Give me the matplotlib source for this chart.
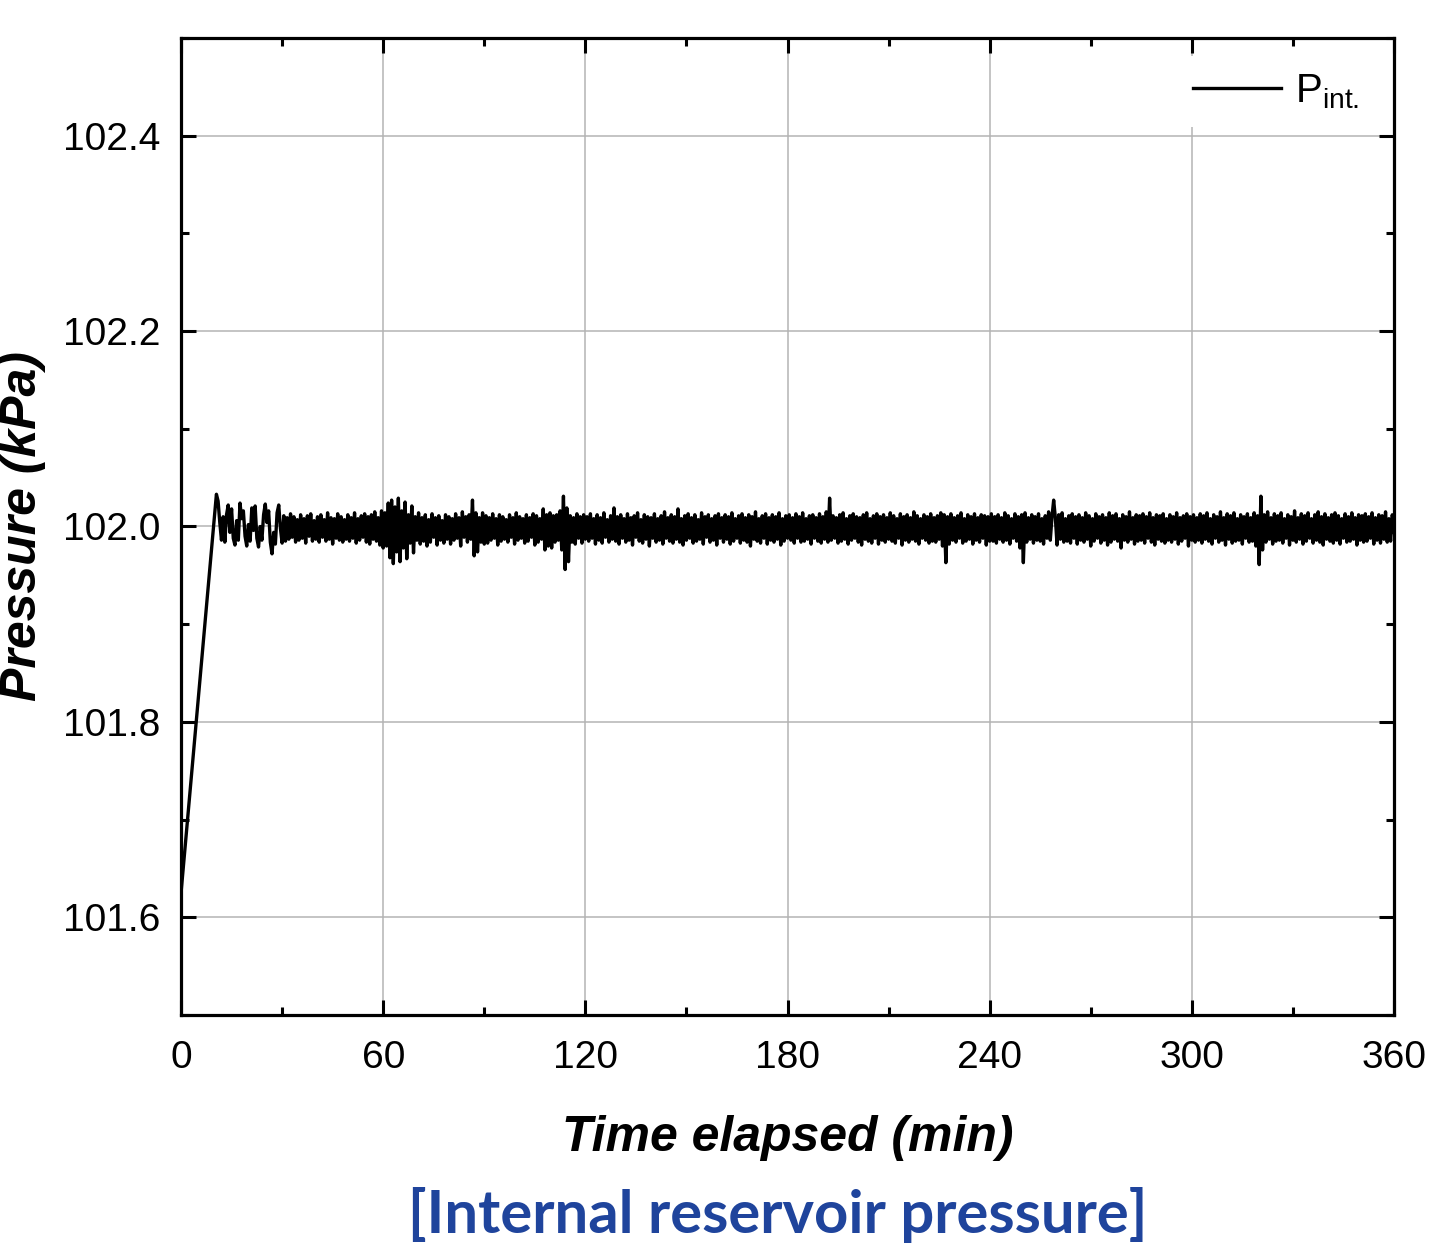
import numpy as np
import matplotlib.pyplot as plt
from matplotlib.ticker import MultipleLocator

# start of the record: P at t = 0 (kPa), then ramp to the first oscillation peak
t_start = 0.0
p_start = 101.625
p_base = 102.0

# deviation from 102.0 kPa in units of 0.001 kPa, read every 0.5 min from t = 10.5 min
dev_h1 = [33, 26, 4, -14, 10, -16, 12, 22, -6, 18, -12, -19, 6, -14, 24, 8, 16, -10, -20, 2,
          -15, 19, -4, 21, -12, -21, 0, -14, 12, 23, 4, 16, -16, -28, -6, -18, 14, 22, -2, -17,
          11, -15, 9, -13, 13, -11, 10, -16, 7, -14, 12, -12, 8, -17, 11, -10, 13, -15, 6, -13,
          10, -16, 12, -11, 7, -15, 14, -13, 9, -18, 8, -12, 13, -14, 10, -16, 7, -13, 12, -15,
          9, -12, 14, -17, 8, -14, 11, -11, 13, -16, 10, -18, 12, -13, 15, -15, 9, -19, 16, -22]
dev_h2 = [14, -20, 24, -32, 27, -38, 20, -26, 29, -36, 16, -22, 25, -33, 12, -17, 21, -27, 10, -14,
          14, -18, 9, -15, 12, -20, 7, -16, 13, -11, 9, -19, 11, -14, 6, -17, 12, -13, 10, -18,
          8, -14, 13, -12, 9, -20, 15, -11, 10, -16, 12, -13, 27, -30, 14, -26, 9, -16, 14, -18,
          11, -17, 9, -14, 13, -12, 8, -19, 12, -15, 10, -13, 7, -16, 12, -11, 9, -18, 14, -14,
          10, -12, 8, -17, 12, -15, 9, -11, 13, -19, 11, -16, 8, -13, 18, -24, 12, -20, 14, -22,
          11, -16, 12, -14, 16, -24, 31, -44, 19, -36, 11, -16, 9, -18, 13, -12, 10, -17, 12, -13]
dev_h3 = [10, -15, 13, -12, 8, -18, 12, -14, 9, -17, 14, -11, 7, -16, 11, -13, 19, -15, 10, -18,
          12, -12, 8, -16, 13, -14, 9, -19, 11, -11, 14, -15, 7, -17, 12, -13, 10, -20, 9, -12,
          13, -16, 8, -14, 11, -18, 15, -12, 9, -15, 12, -17, 10, -13, 18, -16, 8, -19, 11, -14,
          13, -12, 9, -17, 12, -15, 7, -13, 14, -18, 10, -11, 12, -16, 8, -14, 11, -19, 13, -12,
          9, -16, 12, -13, 10, -18, 14, -15, 8, -12, 11, -17, 13, -14, 9, -16, 12, -20, 10, -13,
          15, -15, 8, -17, 11, -12, 13, -18, 9, -14, 12, -16, 10, -13, 14, -19, 8, -15, 11, -12]
dev_h4 = [12, -14, 9, -17, 13, -12, 10, -16, 14, -15, 8, -13, 11, -18, 12, -12, 9, -15, 13, -17,
          10, -13, 15, -16, 29, -14, 11, -12, 9, -17, 12, -15, 14, -13, 8, -18, 11, -14, 13, -12,
          10, -16, 9, -19, 12, -13, 14, -15, 8, -17, 11, -12, 13, -18, 10, -14, 12, -16, 9, -13,
          14, -15, 11, -17, 8, -12, 13, -19, 10, -14, 12, -16, 9, -13, 15, -15, 11, -18, 8, -12,
          12, -14, 10, -17, 13, -15, 9, -16, 11, -13, 14, -20, 12, -37, 10, -18, 13, -14, 9, -16,
          11, -12, 14, -17, 8, -15, 12, -13, 10, -18, 13, -14, 9, -16, 12, -12, 11, -19, 10, -15]
dev_h5 = [13, -15, 10, -17, 12, -13, 9, -16, 14, -14, 11, -18, 8, -12, 13, -15, 10, -22, 12, -37,
          14, -16, 9, -13, 12, -17, 10, -14, 13, -15, 8, -18, 11, -12, 15, -14, 10, 27, 9, -19,
          12, -13, 14, -16, 8, -15, 11, -17, 13, -12, 10, -18, 12, -14, 9, -16, 14, -13, 11, -20,
          8, -15, 13, -12, 10, -17, 12, -14, 9, -19, 14, -16, 11, -13, 13, -15, 8, -22, 12, -14,
          10, -16, 15, -13, 9, -18, 12, -15, 11, -14, 13, -17, 10, -12, 14, -16, 9, -19, 12, -13,
          11, -15, 13, -17, 8, -14, 12, -16, 10, -13, 14, -18, 9, -15, 11, -12, 13, -20, 10, -14]
dev_h6 = [12, -16, 9, -14, 13, -17, 11, -13, 14, -15, 8, -18, 12, -12, 10, -16, 15, -14, 9, -19,
          13, -13, 11, -17, 14, -15, 8, -14, 12, -18, 10, -12, 13, -16, 9, -15, 14, -20, 11, -39,
          31, -24, 12, -16, 15, -13, 9, -18, 13, -15, 11, -14, 14, -17, 8, -12, 12, -19, 10, -14,
          16, -16, 9, -13, 13, -18, 11, -15, 14, -12, 8, -17, 12, -14, 15, -16, 10, -19, 13, -13,
          9, -15, 12, -17, 14, -14, 11, -18, 8, -12, 13, -16, 10, -15, 14, -13, 9, -19, 12, -14,
          11, -16, 13, -15, 10, -12, 14, -18, 9, -14, 12, -17, 11, -13, 15, -16, 8, -15, 12, -6]

dev = np.array(dev_h1 + dev_h2 + dev_h3 + dev_h4 + dev_h5 + dev_h6) / 1000.0
t = np.concatenate([[t_start], np.linspace(10.5, 360, len(dev))])
p = np.concatenate([[p_start], p_base + dev])

plt.rcParams['font.family'] = ['Liberation Sans', 'DejaVu Sans']
plt.rcParams['mathtext.fontset'] = 'custom'
plt.rcParams['mathtext.rm'] = 'Liberation Sans'

fig = plt.figure(figsize=(14.3, 12.57), dpi=100)
ax = fig.add_axes([0.1266, 0.1925, 0.8482, 0.7773])

ax.plot(t, p, color='black', lw=2.4, label=r'P$_{\mathregular{int.}}$', zorder=3)

ax.set_xlim(0, 360)
ax.set_ylim(101.5, 102.5)
ax.xaxis.set_major_locator(MultipleLocator(60))
ax.xaxis.set_minor_locator(MultipleLocator(30))
ax.yaxis.set_minor_locator(MultipleLocator(0.1))
ax.set_yticks([101.6, 101.8, 102.0, 102.2, 102.4])
ax.set_yticklabels(['101.6', '101.8', '102.0', '102.2', '102.4'])

ax.grid(True, which='major', color='#b4b4b4', lw=1.1, zorder=0)
ax.set_axisbelow(True)
ax.tick_params(which='both', direction='in', top=True, right=True, width=2.2, labelsize=28)
ax.tick_params(which='major', length=11)
ax.tick_params(which='minor', length=6)
ax.tick_params(axis='x', pad=18)
ax.tick_params(axis='y', pad=15)
for s in ax.spines.values():
    s.set_linewidth(2.3)

ax.set_xlabel('Time elapsed (min)', fontsize=36, fontweight='bold', fontstyle='italic', labelpad=28)
ax.set_ylabel('Pressure (kPa)', fontsize=36, fontweight='bold', fontstyle='italic', labelpad=12)

leg = ax.legend(loc='upper right', fontsize=29, frameon=True, facecolor='white', edgecolor='none',
                framealpha=1, handlelength=2.2, handletextpad=0.35, borderaxespad=0.45,
                fancybox=False)

fig.text(0.544, 0.0335, '[Internal reservoir pressure]', color='#1f449c', fontsize=43,
         fontweight='bold', family=['Lato', 'DejaVu Sans'], ha='center', va='center')

fig.savefig('out.png', dpi=100)
